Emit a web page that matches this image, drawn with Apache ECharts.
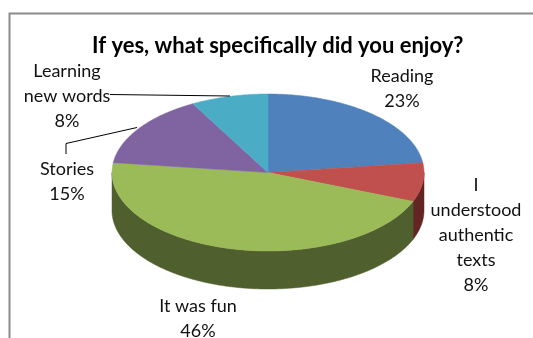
<!DOCTYPE html>
<html>
<head>
<meta charset="utf-8">
<style>html,body{margin:0;padding:0;background:#fff}#c{width:533px;height:338px}</style>
<script src="https://cdn.jsdelivr.net/npm/echarts@6/dist/echarts.min.js"></script>
</head>
<body>
<div id="c"></div>
<script>
const chartTitle = 'If yes, what specifically did you enjoy?';
const categories = ['Reading', 'I\nunderstood\nauthentic\ntexts', 'It was fun', 'Stories', 'Learning\nnew words'];
const values = [23, 8, 46, 15, 8];
const topColors = ['#4f81bd', '#c0504d', '#9bbb59', '#8064a2', '#4bacc6'];
const wallColors = ['#2c4d75', '#632523', '#4f5f2d', '#4d3b62', '#276a7c'];
const labelCentres = [[402, 89], [476, 235], [198, 319], [67, 182], [67, 96]];

const total = values.reduce((a, b) => a + b, 0);
const depth = 38 / 78.5; // wall height, in y-axis units
function startOf(i) { return values.slice(0, i).reduce((a, b) => a + b, 0) / total * 360; }
function rim(api, deg, drop) {
  const r = deg * Math.PI / 180;
  return api.coord([Math.sin(r), Math.cos(r) - (drop || 0)]);
}
function arc(api, a, b, drop) {
  const pts = [];
  const n = Math.max(2, Math.ceil((b - a) * 2));
  for (let k = 0; k <= n; k++) pts.push(rim(api, a + (b - a) * k / n, drop));
  return pts;
}
const chart = echarts.init(document.getElementById('c'), null, { renderer: 'canvas' });
const seriesData = values.map((v, i) => [v, i]);
chart.setOption({
  animation: false,
  backgroundColor: '#fff',
  title: {
    text: chartTitle, left: 87, top: 30,
    textStyle: { fontFamily: 'Lato', fontWeight: 'bold', fontSize: 22, color: '#000' }
  },
  grid: { left: 112, width: 312, top: 94, height: 157 },
  xAxis: { type: 'value', min: -1, max: 1, show: false },
  yAxis: { type: 'value', min: -1, max: 1, show: false },
  graphic: [
    { type: 'polyline', z: 1, shape: { points: [[9.5, 338], [9.5, 13.5], [533, 13.5]] },
      style: { stroke: '#8c8c8c', lineWidth: 2, fill: 'none' } },
    { type: 'polyline', z: 10, shape: { points: [[110, 94.5], [230, 96]] },
      style: { stroke: '#000', lineWidth: 1, fill: 'none' } },
    { type: 'polyline', z: 10, shape: { points: [[66, 154], [66, 143.5], [137, 127.5]] },
      style: { stroke: '#000', lineWidth: 1, fill: 'none' } }
  ],
  series: [
    {
      type: 'custom', coordinateSystem: 'cartesian2d', clip: false, silent: true, z: 2,
      data: seriesData,
      renderItem(params, api) {
        const i = params.dataIndex;
        const a = Math.max(startOf(i), 90), b = Math.min(startOf(i) + api.value(0) / total * 360, 270);
        if (b <= a) return { type: 'group', children: [] };
        const points = arc(api, a, b, 0).concat(arc(api, a, b, depth).reverse());
        return { type: 'polygon', shape: { points }, style: { fill: wallColors[i], stroke: wallColors[i], lineWidth: 0.5 } };
      }
    },
    {
      type: 'custom', coordinateSystem: 'cartesian2d', clip: false, silent: true, z: 3,
      data: seriesData,
      renderItem(params, api) {
        const i = params.dataIndex;
        const a = startOf(i), b = a + api.value(0) / total * 360;
        const points = [api.coord([0, 0])].concat(arc(api, a, b, 0));
        return { type: 'polygon', shape: { points }, style: { fill: topColors[i], stroke: topColors[i], lineWidth: 0.5 } };
      }
    },
    {
      type: 'custom', coordinateSystem: 'cartesian2d', clip: false, silent: true, z: 4,
      data: seriesData,
      renderItem(params, api) {
        const i = params.dataIndex;
        return {
          type: 'text', x: labelCentres[i][0], y: labelCentres[i][1],
          style: {
            text: categories[i] + '\n' + api.value(0) + '%',
            align: 'center', verticalAlign: 'middle',
            font: '18px Lato', lineHeight: 25, fill: '#111'
          }
        };
      }
    }
  ]
});
</script>
</body>
</html>
